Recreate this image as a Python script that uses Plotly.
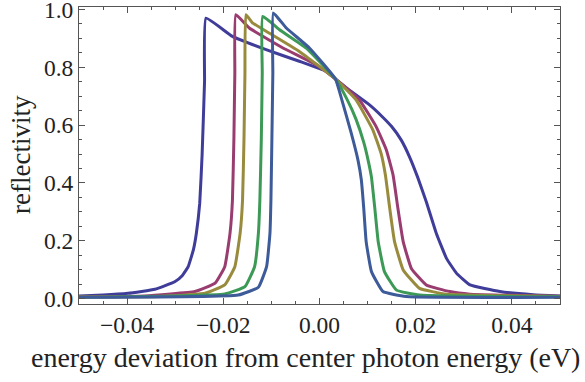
import plotly.graph_objects as go

# Curve data (energy deviation in eV, reflectivity)
c1_x = [-0.05, -0.045, -0.0398, -0.0342, -0.0301, -0.0285, -0.0273, -0.0262, -0.0256, -0.0249, -0.0244,
        -0.0239, -0.0236, -0.0181, -0.0111, -0.0042, 0.0014, 0.0033, 0.0063, 0.0104, 0.0130, 0.0150,
        0.0170, 0.0188, 0.0204, 0.0222, 0.0243, 0.0264, 0.0285, 0.0313, 0.0375, 0.0444, 0.05]
c1_y = [0.009, 0.012, 0.018, 0.032, 0.058, 0.08, 0.11, 0.17, 0.226, 0.33, 0.5,
        0.75, 0.970, 0.907, 0.861, 0.821, 0.786, 0.760, 0.720, 0.670, 0.630, 0.595,
        0.548, 0.487, 0.42, 0.335, 0.225, 0.139, 0.087, 0.047, 0.024, 0.013, 0.009]

c2_x = [-0.05, -0.0363, -0.0259, -0.0217, -0.0197, -0.0186, -0.0181, -0.0178, -0.0176, -0.0174,
        -0.0146, -0.0076, -0.0007, 0.0033, 0.0083, 0.0118, 0.0139, 0.0153, 0.0163, 0.0174,
        0.0191, 0.0222, 0.0271, 0.0313, 0.04, 0.05]
c2_y = [0.006, 0.009, 0.024, 0.053, 0.11, 0.226, 0.34, 0.55, 0.78, 0.982,
        0.936, 0.867, 0.809, 0.760, 0.687, 0.594, 0.514, 0.427, 0.312, 0.197,
        0.104, 0.047, 0.024, 0.015, 0.011, 0.008]

c3_x = [-0.05, -0.0329, -0.0238, -0.0197, -0.0176, -0.0165, -0.0160, -0.0157, -0.0155, -0.0153,
        -0.014, -0.0111, -0.0042, 0.0033, 0.0076, 0.0111, 0.0128, 0.0137, 0.0146, 0.0156,
        0.0174, 0.0208, 0.0264, 0.05]
c3_y = [0.005, 0.007, 0.018, 0.047, 0.11, 0.226, 0.34, 0.55, 0.78, 0.982,
        0.955, 0.925, 0.855, 0.760, 0.687, 0.583, 0.502, 0.427, 0.312, 0.197,
        0.099, 0.035, 0.015, 0.007]

c4_x = [-0.05, -0.0197, -0.0155, -0.0135, -0.0127, -0.0124, -0.0121, -0.0119, -0.0118,
        -0.0083, -0.0028, 0.0033, 0.0057, 0.0076, 0.0092, 0.0101, 0.0108, 0.0115, 0.0122,
        0.0135, 0.016, 0.0208, 0.05]
c4_y = [0.004, 0.016, 0.041, 0.11, 0.226, 0.34, 0.55, 0.78, 0.976,
        0.93, 0.867, 0.760, 0.69, 0.62, 0.54, 0.479, 0.42, 0.312, 0.197,
        0.093, 0.029, 0.012, 0.006]

c5_x = [-0.05, -0.0169, -0.0127, -0.0110, -0.0103, -0.0101, -0.0099, -0.0097, -0.0096,
        -0.0069, -0.0021, 0.0033, 0.0046, 0.0066, 0.0080, 0.0087, 0.0092, 0.0097,
        0.0108, 0.0132, 0.018, 0.05]
c5_y = [0.004, 0.012, 0.039, 0.11, 0.226, 0.34, 0.55, 0.78, 0.988,
        0.936, 0.867, 0.760, 0.69, 0.572, 0.479, 0.41, 0.312, 0.197,
        0.093, 0.024, 0.007, 0.004]

colors = ["#3F3D99", "#993D71", "#998B3D", "#3D9956", "#3D5A99"]
series = [(c1_x, c1_y), (c2_x, c2_y), (c3_x, c3_y), (c4_x, c4_y), (c5_x, c5_y)]

x_tickvals = [-0.04, -0.02, 0.0, 0.02, 0.04]
y_tickvals = [0.0, 0.2, 0.4, 0.6, 0.8, 1.0]
x_title = "energy deviation from center photon energy (eV)"
y_title = "reflectivity"

fig = go.Figure()
for (xs, ys), col in zip(series, colors):
    fig.add_trace(go.Scatter(x=xs, y=ys, mode="lines",
                             line=dict(color=col, width=3, shape="spline", smoothing=0.35),
                             showlegend=False, hoverinfo="skip"))

frame = "#555555"
font_family = "Liberation Serif"
common = dict(ticks="inside", ticklen=6, tickcolor=frame, tickwidth=1,
              showline=True, linecolor=frame, linewidth=1, mirror="allticks",
              showgrid=False, zeroline=False, automargin=False,
              ticklabeloverflow="allow",
              tickfont=dict(size=23.5, family=font_family, color="#222222"))
fig.update_layout(
    width=585, height=382,
    margin=dict(l=79, r=25, t=7, b=78),
    plot_bgcolor="white", paper_bgcolor="white",
    font=dict(family=font_family, size=22, color="#222222"),
    xaxis=dict(range=[-0.05, 0.05], tickvals=x_tickvals, tickformat=".2f",
               minor=dict(ticks="inside", ticklen=3, dtick=0.005, tickcolor=frame, showgrid=False),
               **common),
    yaxis=dict(range=[-0.019, 1.0087], tickvals=y_tickvals, tickformat=".1f",
               minor=dict(ticks="inside", ticklen=3, dtick=0.05, tickcolor=frame, showgrid=False),
               **common),
    annotations=[
        dict(text=x_title, xref="paper", yref="paper", x=(305 - 79) / 481, y=(304 - 357) / 297,
             xanchor="center", yanchor="middle", showarrow=False,
             font=dict(size=28, family=font_family, color="#222222")),
        dict(text=y_title, xref="paper", yref="paper", x=(21 - 79) / 481, y=(304 - 155) / 297,
             textangle=-90, xanchor="center", yanchor="middle", showarrow=False,
             font=dict(size=27, family=font_family, color="#222222")),
    ],
)
fig.write_html("out.html", config={"displayModeBar": False},
               post_script="document.body.style.margin='0';")
